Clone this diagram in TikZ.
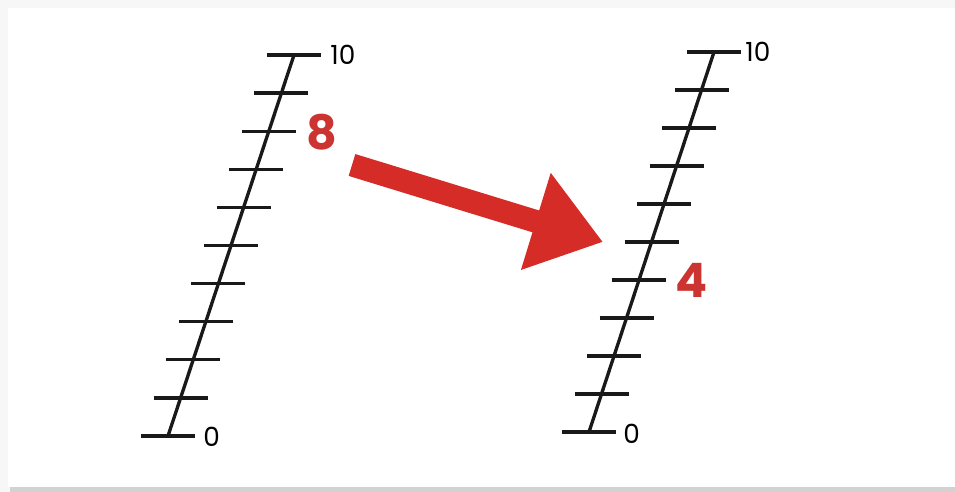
\documentclass[tikz,border=0pt]{standalone}
\usepackage{fontspec}
\setmainfont{Poppins}
\usetikzlibrary{arrows.meta,calc}
\definecolor{arrowred}{RGB}{214,44,40}
\definecolor{labelred}{RGB}{203,52,48}

\begin{document}
\begin{tikzpicture}[
    x=0.02cm, y=-0.02cm,
    axisline/.style={line width=1.9pt, black!90},
    tickline/.style={line width=1.9pt, black!90},
    endlbl/.style={anchor=west, inner sep=0pt, font=\fontsize{15}{17}\selectfont},
    readlbl/.style={inner sep=0pt, text=labelred, font=\fontsize{27}{30}\selectfont\bfseries},
    bigarrow/.style={line width=13pt, arrowred, -{Triangle[length=40pt, width=55pt]}}
]

    % Card and shadow
    \fill[gray!6] (0,0) rectangle (955,492);
    \fill[gray!35] (10,484) rectangle (955,492);
    \fill[white] (8,8) rectangle (955,487);
    \useasboundingbox (0,0) rectangle (955,492);

    % Left scale
    \coordinate (lbot) at (168,436);
    \coordinate (ltop) at (294,55);
    \draw[axisline] (lbot) -- (ltop);
    \foreach \i in {0,...,10}
        \draw[tickline] ($(lbot)!\i/10!(ltop)$) +(-27,0) -- +(27,0);
    \node[endlbl] (ltoplbl) at (330,55)  {10};
    \node[endlbl] (lbotlbl) at (203,437) {0};
    \node[readlbl] (eight)  at (322,132) {8};

    % Right scale
    \coordinate (rbot) at (589,432);
    \coordinate (rtop) at (714,52);
    \draw[axisline] (rbot) -- (rtop);
    \foreach \i in {0,...,10}
        \draw[tickline] ($(rbot)!\i/10!(rtop)$) +(-27,0) -- +(27,0);
    \node[endlbl] (rtoplbl) at (745,52)  {10};
    \node[endlbl] (rbotlbl) at (623,434) {0};
    \node[readlbl] (four)   at (692,280) {4};

    % Big arrow 8 -> 4
    \coordinate (tail) at (352,165);
    \coordinate (tip)  at (603,242);
    \draw[bigarrow] (tail) -- (tip);

\end{tikzpicture}
\end{document}
